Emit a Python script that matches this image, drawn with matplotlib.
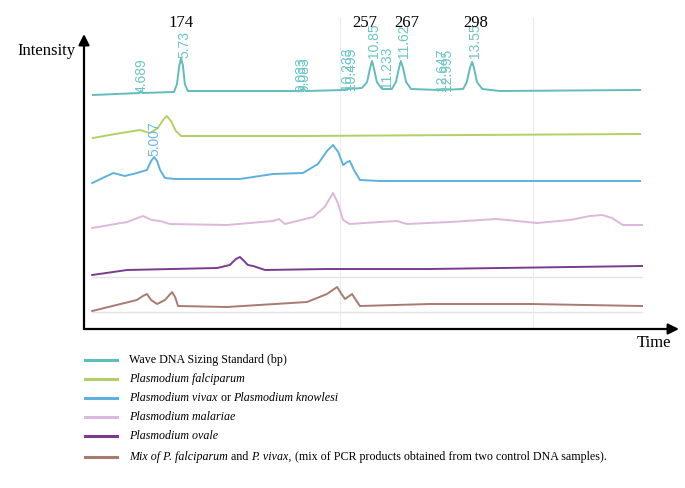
import matplotlib
matplotlib.use("Agg")
import matplotlib.pyplot as plt
from matplotlib.lines import Line2D

# retention time (min) and intensity (arbitrary, stacked traces)
std_t = [3.41, 4.66, 4.69, 4.74, 5.57, 5.65, 5.71, 5.76, 5.81, 5.86, 5.94, 8.93, 9.01, 9.09,
         10.13, 10.21, 10.58, 10.72, 10.80, 10.85, 10.90, 10.98, 11.12, 11.38, 11.49, 11.57,
         11.62, 11.68, 11.76, 11.89, 12.66, 13.28, 13.38, 13.46, 13.52, 13.57, 13.65, 13.79,
         14.26, 18.00]
std_i = [223, 225, 227, 225, 226, 234, 252, 260, 252, 234, 227, 227, 229, 227,
         228, 229, 230, 236, 250, 257, 250, 236, 229, 229, 236, 250,
         257, 250, 236, 229, 228, 229, 236, 250, 256, 250, 236, 229,
         227, 228]

fal_t = [3.41, 4.00, 4.66, 4.93, 5.14, 5.28, 5.38, 5.49, 5.62, 5.76, 8.93, 18.00]
fal_i = [180, 184, 188, 185, 190, 198, 202, 197, 187, 182, 182, 184]

viv_t = [3.39, 3.95, 4.26, 4.58, 4.85, 4.96, 5.04, 5.12, 5.20, 5.33, 5.60, 7.33, 8.21, 9.01,
         9.41, 9.65, 9.81, 9.95, 10.08, 10.19, 10.26, 10.37, 10.53, 11.06, 18.00]
viv_i = [135, 145, 142, 145, 148, 157, 161, 157, 148, 140, 139, 139, 144, 145,
         154, 167, 173, 166, 153, 156, 157, 148, 138, 137, 137]

mal_t = [3.39, 4.32, 4.74, 4.98, 5.20, 5.46, 6.98, 8.21, 8.37, 8.53, 9.28, 9.59, 9.81, 9.94,
         10.08, 10.26, 11.06, 11.52, 11.78, 12.93, 14.18, 15.25, 16.13, 16.66, 16.99, 17.25,
         17.54, 18.05]
mal_i = [90, 96, 102, 98, 97, 94, 93, 97, 99, 94, 101, 111, 125, 115,
         98, 94, 96, 97, 94, 96, 99, 95, 98, 102, 103, 100,
         93, 93]

ova_t = [3.39, 4.32, 6.72, 7.06, 7.22, 7.33, 7.44, 7.54, 7.68, 8.00, 9.65, 12.40, 18.05]
ova_i = [43, 48, 50, 53, 59, 61, 57, 53, 52, 48, 49, 49, 52]

mix_t = [3.39, 4.58, 4.74, 4.85, 4.96, 5.12, 5.33, 5.52, 5.60, 5.68, 6.98, 9.12, 9.65, 9.92,
         10.02, 10.13, 10.32, 10.42, 10.53, 12.40, 15.06, 18.05]
mix_i = [7, 18, 22, 24, 18, 14, 18, 26, 21, 12, 11, 16, 24, 31,
         25, 19, 24, 18, 12, 14, 14, 12]

# peak labels of the sizing standard (time, bottom of label)
peak_labels = ["4.689", "5.73", "9.033", "9.083", "10.233", "10.495", "10.85", "11.233",
               "11.62", "12.647", "12.995", "13.55"]
peak_t = [4.72, 5.84, 8.96, 9.04, 10.18, 10.29, 10.90, 11.25, 11.70, 12.72, 12.85, 13.60]
peak_y = [225, 260, 226, 226, 228, 228, 260, 230, 260, 227, 227, 260]

bp_labels = ["174", "257", "267", "298"]
bp_t = [5.76, 10.66, 11.78, 13.62]

series_colors = ["#62bcbc", "#b2d065", "#5cb2dc", "#dcb8dc", "#7a3a90", "#a87a70"]
legend_parts = [
    [("Wave DNA Sizing Standard (bp)", "normal")],
    [("Plasmodium falciparum", "italic")],
    [("Plasmodium vivax", "italic"), (" or ", "normal"), ("Plasmodium knowlesi", "italic")],
    [("Plasmodium malariae", "italic")],
    [("Plasmodium ovale", "italic")],
    [("Mix of P. falciparum", "italic"), (" and ", "normal"), ("P. vivax,", "italic"),
     (" (mix of PCR products obtained from two control DNA samples).", "normal")],
]

W, H = 685, 488
serif = "Liberation Serif"

fig = plt.figure(figsize=(W / 100, H / 100), dpi=100)
ax = fig.add_axes([84 / W, (H - 329) / H, (679 - 84) / W, (329 - 34) / H])
ax.set_xlim(3.171, 19.037)
ax.set_ylim(-11, 284)
for s in ax.spines.values():
    s.set_visible(False)
ax.set_xticks([])
ax.set_yticks([])

# faint grid / baselines
for gx in [10.0, 15.14]:
    ax.plot([gx, gx], [-11, 300], color="#ececec", lw=0.8, zorder=0, clip_on=False)
for gy in [41, 6]:
    ax.plot([3.39, 18.05], [gy, gy], color="#e4e4e4", lw=1.0, zorder=0)

traces = [(std_t, std_i), (fal_t, fal_i), (viv_t, viv_i), (mal_t, mal_i), (ova_t, ova_i), (mix_t, mix_i)]
for (t, i), c in zip(traces, series_colors):
    ax.plot(t, i, color=c, lw=1.4, solid_joinstyle="round")

for lab, t, y in zip(peak_labels, peak_t, peak_y):
    ax.text(t, y, lab, rotation=90, ha="center", va="bottom", fontsize=10,
            family="Liberation Sans", color="#6cc6c6")
ax.text(5.06, 162, "5.007", rotation=90, ha="center", va="bottom", fontsize=10,
        family="Liberation Sans", color="#6ab8e0")

for lab, t in zip(bp_labels, bp_t):
    ax.text(t, 295, lab, ha="center", va="center", fontsize=12, family=serif, color="black",
            clip_on=False)

# axes arrows
arr = dict(arrowstyle="-|>", color="black", lw=1.6, mutation_scale=16, shrinkA=0, shrinkB=0)
ax.annotate("", xy=(0, 1), xytext=(0, 0), xycoords="axes fraction", arrowprops=arr)
ax.annotate("", xy=(1, 0), xytext=(0, 0), xycoords="axes fraction", arrowprops=arr)

fig.text(17 / W, 1 - 51 / H, "Intensity", ha="left", va="center", fontsize=12, family=serif)
fig.text(637 / W, 1 - 343 / H, "Time", ha="left", va="center", fontsize=12, family=serif)

# legend
rows_y = [360, 379, 398, 417, 436, 457]
r = fig.canvas.get_renderer()
for y, c, parts in zip(rows_y, series_colors, legend_parts):
    fig.add_artist(Line2D([85 / W, 117 / W], [1 - y / H, 1 - y / H], color=c, lw=2.2))
    x = 129
    for s, st in parts:
        txt = fig.text(x / W, 1 - y / H, s, ha="left", va="center", fontsize=8.65, family=serif,
                       style=st)
        x += txt.get_window_extent(renderer=r).width

fig.savefig("out.png", dpi=100)
